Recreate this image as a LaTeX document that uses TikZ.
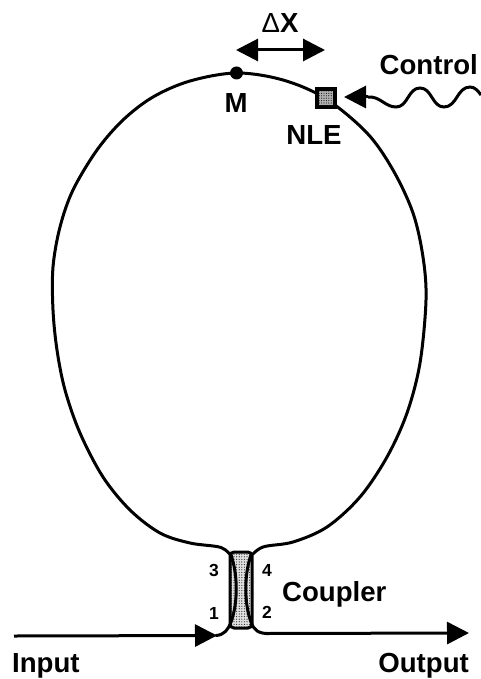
\documentclass[tikz,border=0pt]{standalone}
\usepackage{fontspec}
\setmainfont{Liberation Sans}
\usetikzlibrary{patterns.meta,arrows.meta,calc}
\tikzset{
  fibre/.style={line width=3pt,line cap=round,line join=round},
  headtip/.tip={Triangle[length=22pt,width=22pt]},
  lab/.style={font=\bfseries\fontsize{27.6}{30}\selectfont,inner sep=0pt},
  port/.style={font=\bfseries\fontsize{17.5}{19}\selectfont,inner sep=0pt}
}
\begin{document}
\begin{tikzpicture}[x=1pt,y=-1pt]
\useasboundingbox (0,0) rectangle (481,679);
% coupler
\coordinate (ctl) at (230,552);
\coordinate (cbr) at (252,628);
\fill[black!12,rounded corners=4pt] (ctl) rectangle (cbr);
\fill[pattern={Dots[radius=0.6pt,distance=2.6pt]},pattern color=black!85,rounded corners=4pt] (ctl) rectangle (cbr);
\draw[line width=3pt,rounded corners=4pt] (ctl) rectangle (cbr);
% loop
\coordinate (Mp) at (236.5,73);
\coordinate (Np) at (325.5,98.5);
\draw[fibre] plot[smooth,tension=0.55] coordinates {
  (232,557) (221,547.5) (190,543) (160,533) (130,510) (103,477) (80,433) (65,390)
  (57,350) (53,310) (53,267) (60,227) (73,190) (97,150) (123,120) (153,97)
  (190,81) (Mp) (283,80) (Np) (367,133) (393,170) (413,213) (423,257)
  (426,300) (420,363) (407,413) (387,457) (360,497) (327,527) (293,542) (263,547) (250,557)};
\node[fill=black,circle,inner sep=0pt,minimum size=13pt] (mdot) at (Mp) {};
\node[draw=black,line width=4pt,fill=black!30,minimum size=18pt,inner sep=0pt] (nle) at (Np) {};
\fill[pattern={Dots[radius=0.6pt,distance=2.4pt]},pattern color=black!90] ($(Np)+(-7,-7)$) rectangle ($(Np)+(7,7)$);
% fibres in coupler
\draw[fibre] (231,555) .. controls (238,575) and (238,603) .. (231,622)
  .. controls (228,630) and (224,635) .. (216,635.5);
\draw[fibre] (251,555) .. controls (244,575) and (244,603) .. (251,622)
  .. controls (254,630) and (258,633.5) .. (268,633.5);
% input / output
\coordinate (inS) at (14,636);
\coordinate (inE) at (217,635.5);
\coordinate (outS) at (266,633.5);
\coordinate (outE) at (469,633);
\draw[line width=3pt,-headtip] (inS) -- (inE);
\draw[line width=3pt,-headtip] (outS) -- (outE);
% delta x arrow
\coordinate (dl) at (236,50);
\coordinate (dr) at (325,50);
\draw[line width=3pt,headtip-headtip] (dl) -- (dr);
% control
\coordinate (ctip) at (344,97);
\coordinate (cs) at (368,97);
\coordinate (ce) at (481,95);
\draw[line width=3pt] (cs) .. controls (380,96) and (385,107) .. (396,107)
  .. controls (408,107) and (408,88) .. (420,88)
  .. controls (432,88) and (432,107) .. (444,107)
  .. controls (457,107) and (457,87) .. (470,87)
  .. controls (475,87) and (478,91) .. (ce);
\draw[line width=3pt,headtip-] (ctip) -- (cs);
% labels
\node[lab,anchor=base] (dx) at (280,33) {{\normalfont Δ}X};
\node[lab,anchor=base] (mm) at (236,113) {M};
\node[lab,anchor=base] (nl) at (314,145) {NLE};
\node[lab,anchor=base east] (ct) at (478,75) {Control};
\node[lab,anchor=base west] (cp) at (282,601) {Coupler};
\node[lab,anchor=base west] (ip) at (12,672.5) {Input};
\node[lab,anchor=base east] (op) at (469,672.5) {Output};
\node[port] (p3) at (214,570) {3};
\node[port] (p4) at (267,570) {4};
\node[port] (p1) at (214,613) {1};
\node[port] (p2) at (267,612) {2};
\end{tikzpicture}
\end{document}
